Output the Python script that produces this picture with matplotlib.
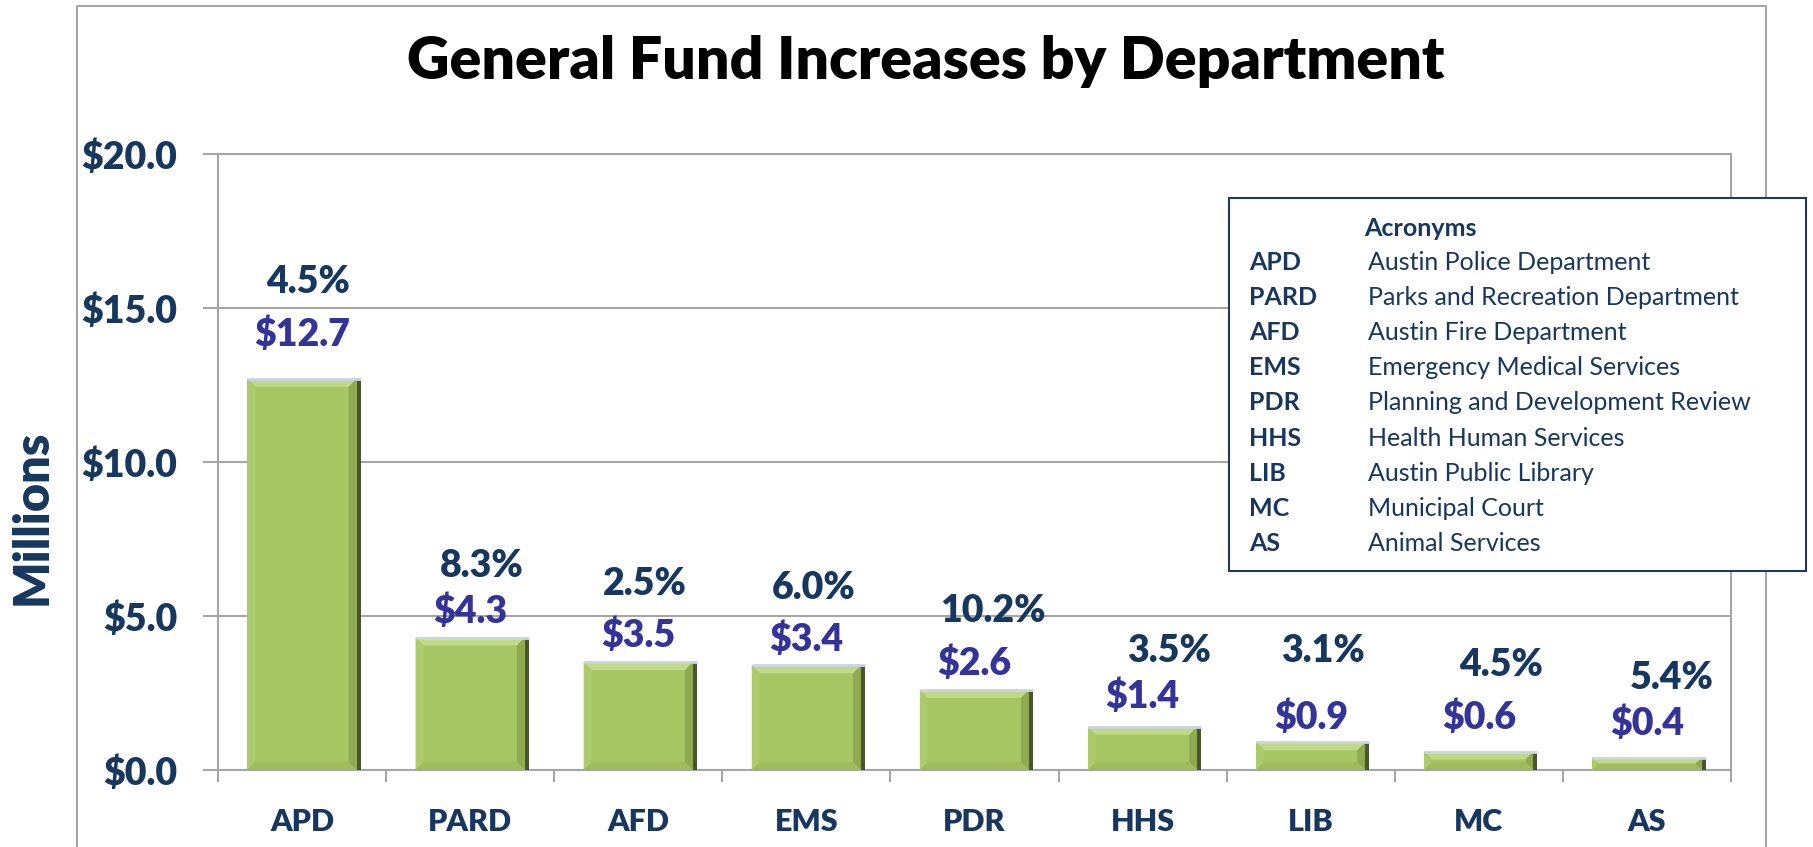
import numpy as np
import matplotlib
matplotlib.use("Agg")
import matplotlib.pyplot as plt
from matplotlib.patches import Polygon, Rectangle
from matplotlib.lines import Line2D
from matplotlib.transforms import offset_copy

depts = ["APD", "PARD", "AFD", "EMS", "PDR", "HHS", "LIB", "MC", "AS"]
increase = [12.7, 4.3, 3.5, 3.4, 2.6, 1.4, 0.9, 0.6, 0.4]
pct_change = ["4.5%", "8.3%", "2.5%", "6.0%", "10.2%", "3.5%", "3.1%", "4.5%", "5.4%"]
yticks = [0, 5, 10, 15, 20]

acronyms = ["APD", "PARD", "AFD", "EMS", "PDR", "HHS", "LIB", "MC", "AS"]
full_names = [
    "Austin Police Department",
    "Parks and Recreation Department",
    "Austin Fire Department",
    "Emergency Medical Services",
    "Planning and Development Review",
    "Health Human Services",
    "Austin Public Library",
    "Municipal Court",
    "Animal Services",
]

# hand placed labels, as on the original slide (data units above bar / px right)
val_dy = [1.52, 0.92, 0.92, 0.91, 0.91, 1.04, 0.86, 1.16, 1.19]
pct_dy = [1.72, 1.50, 1.69, 1.69, 1.74, 1.52, 2.17, 1.74, 1.47]
pct_dx = [6, 12, 7, 7, 18, 26, 12, 22, 25]

NAVY = "#17375E"
PURPLE = "#333399"
GRAY = "#A6A6A6"
HEAVY = "heavy"

plt.rcParams["font.family"] = ["Lato", "DejaVu Sans"]

W, H = 1813, 847
fig = plt.figure(figsize=(W / 100, H / 100), dpi=100)


def fx(x):
    return x / W


def fy(y):
    return 1 - y / H


# outer chart frame
fig.add_artist(Line2D([fx(77), fx(77), fx(1766), fx(1766)], [fy(900), fy(6), fy(6), fy(900)],
                      transform=fig.transFigure, color=GRAY, lw=1.5))

ax = fig.add_axes([fx(218), fy(770), (1731 - 218) / W, (770 - 154) / H])
x = np.arange(len(depts))
bars = ax.bar(x, increase, width=0.65, color="#A5C662", zorder=3)

ax.set_xlim(-0.5, len(depts) - 0.5)
ax.set_ylim(0, 20)

# bevel look on the bars
ax_w_px = ax.get_position().width * W
ax_h_px = ax.get_position().height * H
ppx = (len(depts)) / ax_w_px
ppy = 20 / ax_h_px
for rect in bars:
    x0, w, h = rect.get_x(), rect.get_width(), rect.get_height()
    x1 = x0 + w
    b = min(8, h / ppy / 2.2)
    bx, by = b * ppx, b * ppy
    ax.add_patch(Polygon([(x0, h), (x1, h), (x1 - bx, h - by), (x0 + bx, h - by)],
                         color="#C0D987", zorder=4, lw=0))
    ax.add_patch(Polygon([(x0, 0), (x0, h), (x0 + bx, h - by), (x0 + bx, by)],
                         color="#ADCA6C", zorder=4, lw=0))
    ax.add_patch(Polygon([(x1, 0), (x1, h), (x1 - bx, h - by), (x1 - bx, by)],
                         color="#8FAA50", zorder=4, lw=0))
    ax.add_patch(Polygon([(x0, 0), (x1, 0), (x1 - bx, by), (x0 + bx, by)],
                         color="#9FBC5C", zorder=4, lw=0))
    ax.add_patch(Rectangle((x1, 0), 4 * ppx, h, color="#4A5533", zorder=4, lw=0))
    ax.plot([x0, x1 + 4 * ppx], [h, h], color="#C9D5E3", lw=2, zorder=5,
            solid_capstyle="butt")

# labels
for i, v in enumerate(increase):
    tr = offset_copy(ax.transData, fig=fig, x=0, y=-13.5, units="dots")
    ax.text(i, v + val_dy[i], f"${v:.1f}", transform=tr, ha="center", va="baseline",
            fontsize=27, fontweight=HEAVY, color=PURPLE, zorder=6)
    tr2 = offset_copy(ax.transData, fig=fig, x=pct_dx[i], y=-13.5, units="dots")
    ax.text(i, v + val_dy[i] + pct_dy[i], pct_change[i], transform=tr2, ha="center",
            va="baseline", fontsize=27, fontweight=HEAVY, color=NAVY, zorder=6)

# axes styling
ax.set_yticks(yticks)
ax.set_yticklabels([f"${t:.1f}" for t in yticks], fontsize=27, fontweight=HEAVY, color=NAVY)
ax.yaxis.grid(True, color=GRAY, lw=1.5)
ax.set_axisbelow(True)
ax.tick_params(axis="y", length=11, width=1.5, color=GRAY, pad=18.5)

ax.set_xticks(x)
ax.set_xticklabels(depts, fontsize=22, fontweight=HEAVY, color=NAVY)
ax.set_xticks(np.arange(-0.5, len(depts), 1), minor=True)
ax.tick_params(axis="x", which="major", length=0, pad=27)
ax.tick_params(axis="x", which="minor", length=8.6, width=1.5, color=GRAY)
for s in ax.spines.values():
    s.set_color(GRAY)
    s.set_linewidth(1.5)

fig.text(fx(926), fy(79), "General Fund Increases by Department", ha="center", va="baseline",
         fontsize=42.5, fontweight=HEAVY, color="black")
fig.text(fx(32), fy(517), "Millions", rotation=90, ha="center", va="center",
         fontsize=35, fontweight=HEAVY, color=NAVY)

# acronym box
fig.add_artist(Rectangle((fx(1229), fy(571)), (1806 - 1229) / W, (571 - 198) / H,
                         transform=fig.transFigure, facecolor="white", edgecolor="#1F3864",
                         lw=1.5, zorder=5))
fig.text(fx(1420), fy(236), "Acronyms", ha="center", va="baseline", fontsize=18,
         fontweight="bold", color=NAVY, zorder=6)
for i, (a, n) in enumerate(zip(acronyms, full_names)):
    yb = 270 + i * 35.1
    fig.text(fx(1249), fy(yb), a, ha="left", va="baseline", fontsize=18,
             fontweight="bold", color=NAVY, zorder=6)
    fig.text(fx(1368), fy(yb), n, ha="left", va="baseline", fontsize=18,
             color=NAVY, zorder=6)

fig.savefig("out.png", dpi=100)
